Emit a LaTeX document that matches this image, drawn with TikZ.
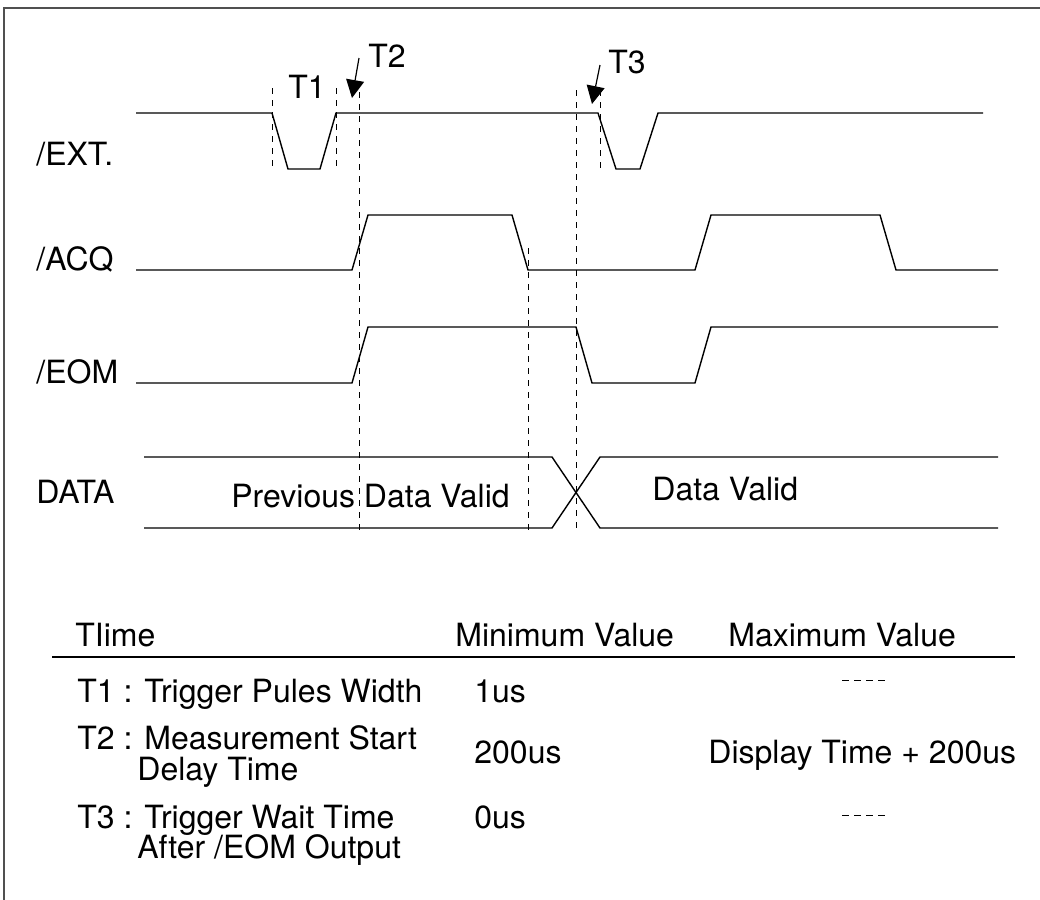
\documentclass[tikz,border=0pt]{standalone}
\usepackage{fontspec}
\setmainfont{TeX Gyre Heros}
\usetikzlibrary{arrows.meta}
\definecolor{frame}{RGB}{80,80,80}
\tikzstyle{signal}=[line width=0.7pt, line join=miter]
\tikzstyle{marker}=[dash pattern=on 3pt off 3pt, line width=0.5pt]
\tikzstyle{txt}=[anchor=base west, inner sep=0pt, font=\fontsize{16}{18}\selectfont]
\tikzstyle{pointer}=[-{Triangle[width=9pt,length=9pt]}, line width=0.6pt]
\tikzstyle{nodata}=[dash pattern=on 3.5pt off 2.5pt, line width=0.4pt]

\begin{document}
\begin{tikzpicture}[x=0.5pt,y=-0.5pt]
  \useasboundingbox (0,0) rectangle (1040,900);
  %% Frame
  \draw[frame, line width=1pt] (4,900) -- (4,8) -- (1040,8);

  %% Signal names
  \draw (36,165) node[txt] (ext) {/EXT.};
  \draw (36,270) node[txt] (acq) {/ACQ};
  \draw (36,383) node[txt] (eom) {/EOM};
  \draw (36,503) node[txt] (data) {DATA};

  %% Waveforms
  \draw[signal] (136,113) -- (272,113) -- (288,169) -- (320,169) -- (336,113) -- (598,113)
    -- (616,169) -- (640,169) -- (658,113) -- (983,113);
  \draw[signal] (136,270) -- (352,270) -- (368,215) -- (512,215) -- (528,270) -- (695,270)
    -- (711,215) -- (880,215) -- (896,270) -- (998,270);
  \draw[signal] (136,383) -- (352,383) -- (368,327) -- (576,327) -- (592,383) -- (695,383)
    -- (711,327) -- (998,327);
  \draw[signal] (144,457) -- (552,457) -- (600,528) -- (998,528);
  \draw[signal] (144,528) -- (552,528) -- (600,457) -- (998,457);
  \draw (231,507) node[txt] (prev) {Previous Data Valid};
  \draw (652,500) node[txt] (valid) {Data Valid};

  %% Timing markers
  \draw[marker] (272,88) -- (272,168);
  \draw[marker] (336,88) -- (336,168);
  \draw[marker] (359,92) -- (359,530);
  \draw[marker] (528,248) -- (528,532);
  \draw[marker] (576,90) -- (576,530);
  \draw[marker] (600,90) -- (600,168);

  \draw (288,98) node[txt] (t1) {T1};
  \draw (368,67) node[txt] (t2) {T2};
  \draw (608,73) node[txt] (t3) {T3};
  \coordinate (t2tail) at (359,58);
  \coordinate (t2tip) at (352,98);
  \coordinate (t3tail) at (600,65);
  \coordinate (t3tip) at (592,104);
  \draw[pointer] (t2tail) -- (t2tip);
  \draw[pointer] (t3tail) -- (t3tip);

  %% Table
  \draw (75,646) node[txt] (hdtime) {TIime};
  \draw (455,646) node[txt] (hdmin) {Minimum Value};
  \draw (728,646) node[txt] (hdmax) {Maximum Value};
  \draw[line width=0.6pt] (52,657) -- (1015,657);

  \draw (77,702) node[txt] (r1) {T1 : Trigger Pules Width};
  \draw (474,702) node[txt] (r1min) {1us};
  \draw[nodata] (842,680) -- (888,680);

  \draw (77,749) node[txt] (r2) {T2 : Measurement Start};
  \draw (137,780) node[txt] (r2b) {Delay Time};
  \draw (474,763) node[txt] (r2min) {200us};
  \draw (708,763) node[txt] (r2max) {Display Time + 200us};

  \draw (77,828) node[txt] (r3) {T3 : Trigger Wait Time};
  \draw (137,858) node[txt] (r3b) {After /EOM Output};
  \draw (474,828) node[txt] (r3min) {0us};
  \draw[nodata] (842,815) -- (888,815);
\end{tikzpicture}
\end{document}
